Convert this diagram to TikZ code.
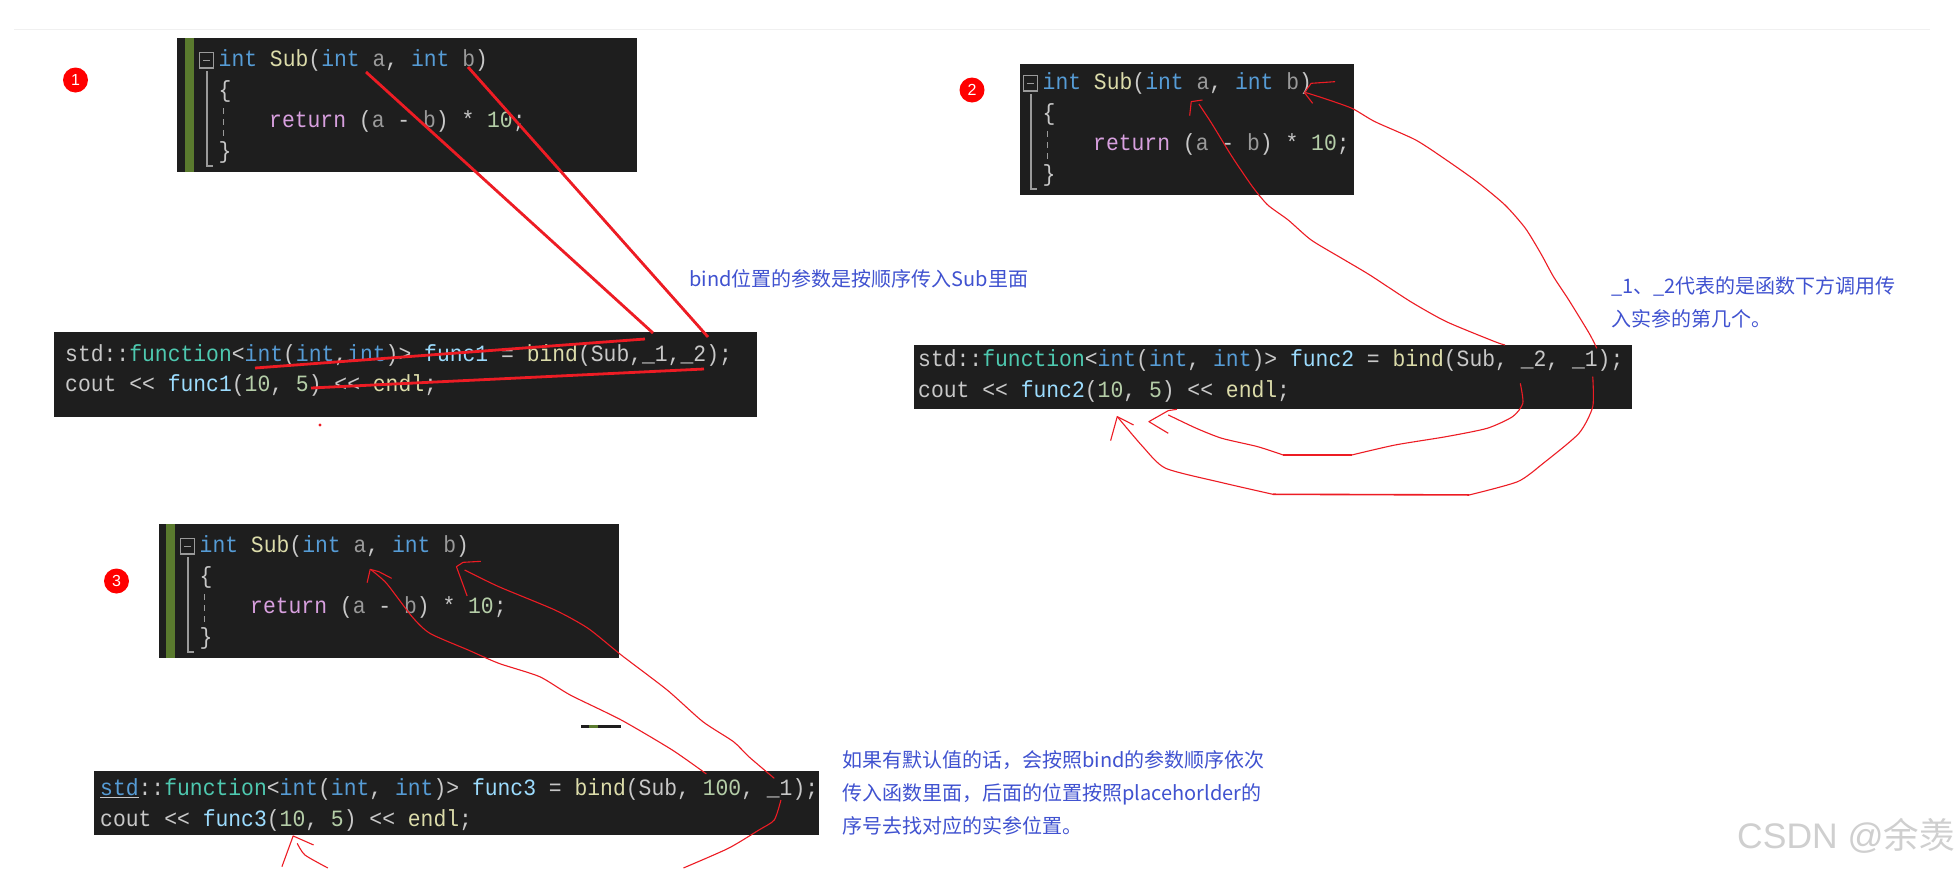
\documentclass[tikz,border=0pt]{standalone}
\usepackage{fontspec}
\newfontfamily\codefont[FakeStretch=0.917]{Liberation Mono}
\newfontfamily\cjkfont{Noto Sans CJK SC}
\newfontfamily\wmfont{Liberation Sans}
\definecolor{codebg}{HTML}{1E1E1E}
\definecolor{barg}{HTML}{5A7A2E}
\definecolor{ckw}{HTML}{569CD6}
\definecolor{cfn}{HTML}{DCDCAA}
\definecolor{cty}{HTML}{4EC9B0}
\definecolor{cvr}{HTML}{9CDCFE}
\definecolor{cnm}{HTML}{B5CEA8}
\definecolor{cpl}{HTML}{C8C8C8}
\definecolor{cgr}{HTML}{9A9A9A}
\definecolor{crt}{HTML}{D8A0DF}
\definecolor{inkred}{HTML}{ED1C24}
\definecolor{noteblue}{HTML}{4052D0}
\definecolor{wmgrey}{HTML}{CFCFCF}
\newcommand\tkK[1]{\textcolor{ckw}{#1}}
\newcommand\tkF[1]{\textcolor{cfn}{#1}}
\newcommand\tkT[1]{\textcolor{cty}{#1}}
\newcommand\tkV[1]{\textcolor{cvr}{#1}}
\newcommand\tkN[1]{\textcolor{cnm}{#1}}
\newcommand\tkG[1]{\textcolor{cgr}{#1}}
\newcommand\tkR[1]{\textcolor{crt}{#1}}
\tikzset{
  x=1pt,y=-1pt,
  codebox/.style={fill=codebg},
  codebar/.style={fill=barg},
  codeline/.style={anchor=base west,inner sep=0pt,text=cpl,font=\codefont\fontsize{23.3}{26}\selectfont},
  foldline/.style={draw=cgr,line width=1.2pt},
  numdot/.style={circle,fill=red,minimum size=25pt,inner sep=0pt,text=white,font=\wmfont\fontsize{16}{18}\selectfont},
  note/.style={anchor=base west,inner sep=0pt,text=noteblue,font=\cjkfont\fontsize{20}{24}\selectfont},
  bold ink/.style={draw=inkred,line width=2.8pt},
  thin ink/.style={draw=inkred,line width=1.1pt,line join=round},
  subfn/.pic={
    \draw[foldline] (0.6,0.6) rectangle (14.5,16);
    \draw[foldline,line width=1.6pt] (4,8.3) -- (11,8.3);
    \draw[foldline] (8,19) -- (8,114) -- (14,114);
    \draw[foldline,line width=1pt,dash pattern=on 6pt off 5pt] (24,56) -- (24,86);
    \node[codeline] (-l1) at (19.5,14.5) {\tkK{int} \tkF{Sub}(\tkK{int} \tkG{a}, \tkK{int} \tkG{b})};
    \node[codeline] (-l2) at (19.5,45) {\{};
    \node[codeline] (-l3) at (70,75) {\tkR{return} (\tkG{a} - \tkG{b}) * \tkN{10};};
    \node[codeline] (-l4) at (19.5,106) {\}};
  }
}
\begin{document}
\begin{tikzpicture}
\useasboundingbox[fill=white] (0,0) rectangle (1957,868);
\draw[color=black!6,line width=1pt] (14,29) -- (1930,29);

% boxes
\fill[codebox] (177,38) rectangle (637,172);
\fill[codebar] (185,38) rectangle (194,172);
\fill[codebox] (54,332) rectangle (757,417);
\fill[codebox] (1020,64) rectangle (1354,195);
\fill[codebox] (914,345) rectangle (1632,409);
\fill[codebox] (159,524) rectangle (619,658);
\fill[codebar] (166,524) rectangle (175,658);
\fill[codebox] (94,771) rectangle (819,835);
% stray mark
\fill[codebox] (581,725) rectangle (621,728);
\fill[codebar] (589,725) rectangle (598,728);

% code
\pic (a) at (199,52) {subfn};
\pic (b) at (1023,75) {subfn};
\pic (c) at (180,538) {subfn};

\node[codeline] (a5) at (65,361) {std::\tkT{function}<\tkK{int}(\tkK{int},\tkK{int})> \tkV{func1} = \tkF{bind}(Sub,\_1,\_2);};
\node[codeline] (a6) at (65,391) {cout << \tkV{func1}(\tkN{10}, \tkN{5}) << \tkF{endl};};
\node[codeline] (b5) at (918,366) {std::\tkT{function}<\tkK{int}(\tkK{int}, \tkK{int})> \tkV{func2} = \tkF{bind}(Sub, \_2, \_1);};
\node[codeline] (b6) at (918,397) {cout << \tkV{func2}(\tkN{10}, \tkN{5}) << \tkF{endl};};
\node[codeline] (c5) at (100,795) {\underline{\tkK{std}}::\tkT{function}<\tkK{int}(\tkK{int}, \tkK{int})> \tkV{func3} = \tkF{bind}(Sub, \tkN{100}, \_1);};
\node[codeline] (c6) at (100,826) {cout << \tkV{func3}(\tkN{10}, \tkN{5}) << \tkF{endl};};

% numbered dots
\node[numdot] (n1) at (75.5,80) {1};
\node[numdot] (n2) at (972,90) {2};
\node[numdot] (n3) at (116.5,581) {3};

% notes
\node[note] (t1) at (689,286) {bind位置的参数是按顺序传入Sub里面};
\node[note] (t2) at (1611,293) {\_1、\_2代表的是函数下方调用传};
\node[note] (t3) at (1611,326) {入实参的第几个。};
\node[note] (t4) at (842,767) {如果有默认值的话，会按照bind的参数顺序依次};
\node[note] (t5) at (842,800) {传入函数里面，后面的位置按照placehorlder的};
\node[note] (t6) at (842,833) {序号去找对应的实参位置。};

% watermark
\node[anchor=base west,inner sep=0pt,text=wmgrey] (wm) at (1737,848) {\wmfont\fontsize{35.5}{40}\selectfont CSDN @\cjkfont 余羡};

% panel 1 ink
\draw[bold ink] (366,72) -- (653,333);
\draw[bold ink] (468,67) -- (708,337);
\draw[bold ink] (255,368) -- (645,339);
\draw[bold ink] (311,388) -- (704,369);
\fill[inkred] (320,425) circle (1.6);

% panel 2 ink (crop coordinates)
\begin{scope}[shift={(880,0)},x=0.5102pt,y=-0.3333pt]
\draw[thin ink] plot[smooth,tension=0.4] coordinates {(1225,1035)(1205,1025)(1110,965)(1040,905)(960,825)(905,775)(845,720)(800,660)(760,615)(730,560)(690,470)(650,370)(625,312)};
\draw[thin ink] (607,347) -- (610,305) -- (632,300);
\draw[thin ink] plot[smooth,tension=0.4] coordinates {(1405,1045)(1390,1000)(1350,900)(1320,830)(1295,760)(1265,685)(1225,615)(1170,545)(1110,480)(1050,420)(970,365)(925,325)(870,295)(835,278)};
\draw[thin ink] (848,310) -- (832,278) -- (845,250) -- (892,245);
\draw[thin ink] plot[smooth,tension=0.4] coordinates {(1255,1150)(1260,1210)(1240,1250)(1190,1285)(1110,1310)(1010,1335)(925,1365)};
\draw[thin ink,line width=1.6pt] (925,1365) -- (790,1365);
\draw[thin ink] plot[smooth,tension=0.4] coordinates {(790,1365)(740,1340)(670,1315)(620,1285)(565,1245)};
\draw[thin ink] (565,1300) -- (527,1265) -- (565,1232) -- (582,1228);
\draw[thin ink] plot[smooth,tension=0.4] coordinates {(1397,1130)(1397,1220)(1370,1300)(1300,1390)(1250,1445)(1155,1485)};
\draw[thin ink,line width=1.6pt] (1155,1485) -- (770,1483);
\draw[thin ink] plot[smooth,tension=0.4] coordinates {(770,1483)(670,1448)(560,1405)(515,1340)(465,1250)};
\draw[thin ink] (452,1322) -- (465,1250) -- (497,1275);
\end{scope}

% panel 3 ink (crop coordinates)
\begin{scope}[shift={(60,500)},x=0.5102pt,y=-0.3333pt]
\draw[thin ink] plot[smooth,tension=0.4] coordinates {(1267,822)(1200,750)(1100,660)(1000,585)(940,530)(860,490)(800,450)(725,400)(690,350)(640,250)(610,210)};
\draw[thin ink] (602,248) -- (608,208) -- (625,215) -- (650,235);
\draw[thin ink] plot[smooth,tension=0.4] coordinates {(1400,835)(1350,770)(1320,725)(1260,665)(1190,570)(1100,465)(1035,385)(970,330)(860,260)(793,210)};
\draw[thin ink] (798,288) -- (777,200) -- (790,187) -- (825,184);
\draw[thin ink] plot[smooth,tension=0.4] coordinates {(1413,900)(1400,960)(1370,990)(1310,1045)(1222,1104)};
\draw[thin ink] plot[smooth,tension=0.4] coordinates {(465,1030)(480,1065)(525,1104)};
\draw[thin ink] (435,1100) -- (457,1008) -- (497,1035);
\end{scope}
\end{tikzpicture}
\end{document}
